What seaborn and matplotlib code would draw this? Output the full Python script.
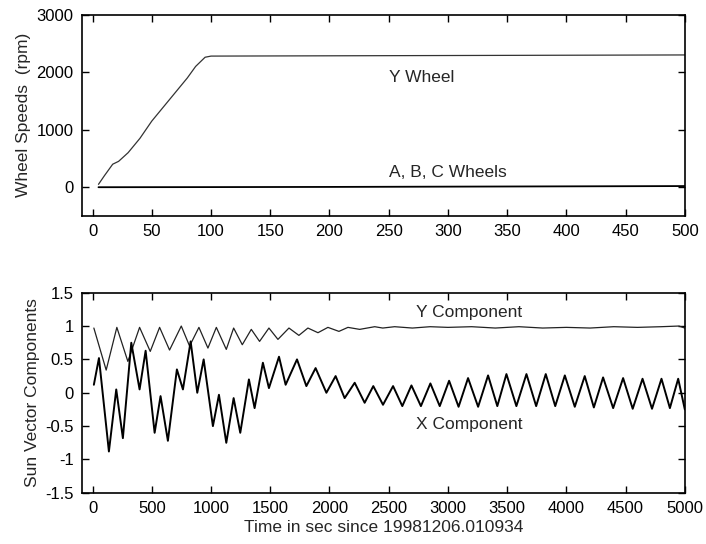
import numpy as np
import pandas as pd
import matplotlib
matplotlib.use("Agg")
import matplotlib.pyplot as plt
import seaborn as sns

# wheel speeds
y_wheel_t = [5, 10, 17, 22, 30, 40, 50, 60, 70, 80, 87, 95, 100, 200, 300, 400, 500]
y_wheel_rpm = [50, 200, 400, 450, 600, 850, 1150, 1400, 1650, 1900, 2100, 2260, 2280, 2285, 2290, 2295, 2300]
abc_t = [5, 100, 200, 300, 400, 500]
abc_rpm = [0, 2, 5, 10, 15, 20]

# sun vector X component: start, peaks and troughs
x_comp_t = [11, 54, 138, 200, 256, 327, 397, 448, 524, 574, 636, 712, 763, 828, 884, 938,
            1016, 1067, 1129, 1191, 1247, 1320, 1368, 1438, 1489, 1574, 1630, 1726, 1805,
            1883, 1974, 2052, 2128, 2213, 2297, 2370, 2452, 2537, 2615, 2692, 2772, 2852,
            2931, 3010, 3090, 3170, 3255, 3339, 3417, 3494, 3578, 3663, 3745, 3826, 3906,
            3987, 4071, 4155, 4232, 4310, 4395, 4479, 4560, 4643, 4723, 4803, 4874, 4944, 5000]
x_comp_v = [0.12, 0.52, -0.88, 0.05, -0.68, 0.75, 0.05, 0.63, -0.6, -0.05, -0.72, 0.35, 0.05, 0.77, 0.0, 0.5,
            -0.5, -0.03, -0.75, -0.08, -0.6, 0.2, -0.23, 0.45, 0.07, 0.54, 0.12, 0.5, 0.1,
            0.37, 0.0, 0.25, -0.08, 0.15, -0.15, 0.1, -0.18, 0.1, -0.2, 0.11, -0.2, 0.14,
            -0.2, 0.18, -0.21, 0.22, -0.21, 0.26, -0.2, 0.28, -0.2, 0.28, -0.2, 0.28, -0.2,
            0.26, -0.21, 0.25, -0.22, 0.23, -0.23, 0.22, -0.24, 0.21, -0.24, 0.21, -0.23, 0.21, -0.25]

# sun vector Y component
y_comp_t = [11, 115, 205, 298, 397, 487, 566, 650, 749, 819, 898, 974, 1045, 1129, 1191, 1264,
            1340, 1410, 1489, 1565, 1658, 1742, 1818, 1903, 1987, 2080, 2156, 2255, 2382,
            2450, 2550, 2700, 2850, 3000, 3200, 3400, 3600, 3800, 4000, 4200, 4400, 4600,
            4800, 4950, 5000]
y_comp_v = [0.97, 0.34, 0.98, 0.47, 0.98, 0.62, 0.98, 0.64, 1.0, 0.7, 0.98, 0.67, 0.98, 0.65, 0.97, 0.72,
            0.95, 0.77, 0.97, 0.8, 0.97, 0.86, 0.97, 0.9, 0.98, 0.92, 0.98, 0.95, 0.99,
            0.97, 0.99, 0.97, 0.99, 0.98, 0.99, 0.97, 0.99, 0.97, 0.98, 0.97, 0.99, 0.98,
            0.99, 1.0, 0.97]

top_xticks = [0, 50, 100, 150, 200, 250, 300, 350, 400, 450, 500]
top_yticks = [0, 1000, 2000, 3000]
bot_xticks = [0, 500, 1000, 1500, 2000, 2500, 3000, 3500, 4000, 4500, 5000]
bot_yticks = [-1.5, -1, -0.5, 0, 0.5, 1, 1.5]
bot_yticklabels = ["-1.5", "-1", "-0.5", "0", "0.5", "1", "1.5"]

sns.set_style("ticks")
plt.rcParams["font.family"] = ["Liberation Sans", "DejaVu Sans"]
plt.rcParams["axes.unicode_minus"] = False
plt.rcParams["font.size"] = 12
plt.rcParams["axes.labelsize"] = 12.5

fig = plt.figure(figsize=(7.06, 5.44), dpi=100)
ax1 = fig.add_axes([0.116, 0.603, 0.854, 0.37])
ax2 = fig.add_axes([0.116, 0.094, 0.854, 0.368])

df_y = pd.DataFrame({"t": y_wheel_t, "rpm": y_wheel_rpm})
df_abc = pd.DataFrame({"t": abc_t, "rpm": abc_rpm})
sns.lineplot(data=df_y, x="t", y="rpm", ax=ax1, color="#333333", lw=0.9, estimator=None, sort=False)
sns.lineplot(data=df_abc, x="t", y="rpm", ax=ax1, color="black", lw=1.3, estimator=None, sort=False)
ax1.text(250, 1900, "Y Wheel", va="center", ha="left", fontsize=12.5)
ax1.text(250, 250, "A, B, C Wheels", va="center", ha="left", fontsize=12.5)
ax1.set_xlim(-9, 500)
ax1.set_ylim(-500, 3000)
ax1.set_xticks(top_xticks)
ax1.set_yticks(top_yticks)
ax1.set_xlabel("")
ax1.set_ylabel("Wheel Speeds  (rpm)")

df_x = pd.DataFrame({"t": x_comp_t, "v": x_comp_v})
df_yc = pd.DataFrame({"t": y_comp_t, "v": y_comp_v})
sns.lineplot(data=df_yc, x="t", y="v", ax=ax2, color="#222222", lw=0.9, estimator=None, sort=False)
sns.lineplot(data=df_x, x="t", y="v", ax=ax2, color="black", lw=1.4, estimator=None, sort=False)
ax2.text(2730, 1.21, "Y Component", va="center", ha="left", fontsize=12.5)
ax2.text(2730, -0.47, "X Component", va="center", ha="left", fontsize=12.5)
ax2.set_xlim(-90, 5000)
ax2.set_ylim(-1.5, 1.5)
ax2.set_xticks(bot_xticks)
ax2.set_yticks(bot_yticks)
ax2.set_yticklabels(bot_yticklabels)
ax2.set_xlabel("Time in sec since 19981206.010934", labelpad=3)
ax2.set_ylabel("Sun Vector Components")

for ax in (ax1, ax2):
    for s in ax.spines.values():
        s.set_visible(True)
        s.set_color("black")
        s.set_linewidth(1.2)
    ax.tick_params(direction="in", top=True, right=True, length=5, width=1, colors="black", pad=6)

fig.savefig("out.png", dpi=100)
